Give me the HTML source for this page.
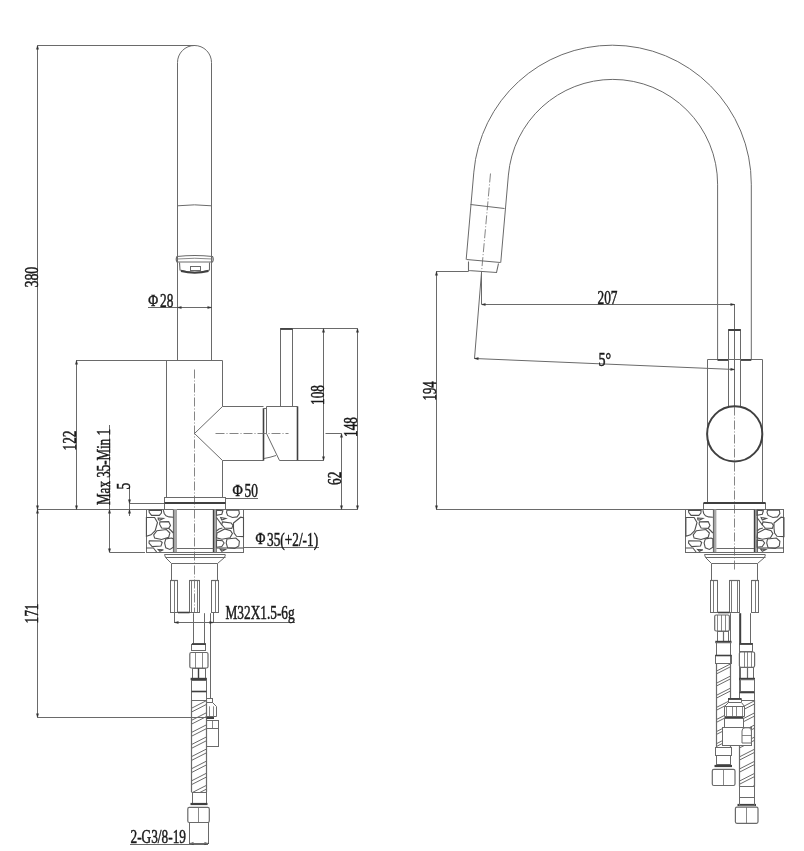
<!DOCTYPE html>
<html><head><meta charset="utf-8"><style>
html,body{margin:0;padding:0;background:#fff;}
svg{display:block;will-change:transform;}
svg line, svg path, svg rect, svg circle{fill:none;stroke:#6a6a6a;stroke-width:1;}
svg g[fill] rect, svg g[fill] path{fill:#fff;}
svg text{font-family:"Liberation Serif",serif;fill:#1a1a1a;stroke:#1a1a1a;stroke-width:0.5px;}
.dash{stroke-dasharray:9 2 1 2;stroke-width:0.8;stroke:#666 !important;}
.dashdot{stroke-dasharray:9 2 1 2;stroke-width:0.8;stroke:#666 !important;}
</style></head><body>
<svg width="804" height="851" viewBox="0 0 804 851">
<line x1="37.5" y1="45.5" x2="37.5" y2="717.5"/>
<line x1="37.5" y1="45.5" x2="195" y2="45.5"/>
<line x1="37.5" y1="717.5" x2="206.4" y2="717.5"/>
<line x1="37.5" y1="509.5" x2="357.5" y2="509.5"/>
<text transform="translate(37.5,287.5) rotate(-90) scale(0.75,1)" font-size="18.5">380</text>
<text transform="translate(37.5,623.5) rotate(-90) scale(0.72,1)" font-size="18.5">171</text>
<line x1="76.5" y1="360" x2="76.5" y2="509.5"/>
<line x1="76.2" y1="360.5" x2="167" y2="360.5"/>
<text transform="translate(76.2,450.5) rotate(-90) scale(0.72,1)" font-size="18.5">122</text>
<line x1="109.5" y1="425" x2="109.5" y2="552"/>
<line x1="109.6" y1="552.5" x2="145" y2="552.5"/>
<text transform="translate(109.6,505) rotate(-90) scale(0.705,1)" font-size="18.5">Max 35-Min 1</text>
<line x1="129.5" y1="486" x2="129.5" y2="516"/>
<line x1="129.5" y1="503.5" x2="164.5" y2="503.5"/>
<text transform="translate(129.5,489.5) rotate(-90) scale(0.72,1)" font-size="18.5">5</text>
<line x1="148" y1="307.5" x2="212" y2="307.5"/>
<text transform="translate(148.3,305.8) scale(0.82,1)" font-size="16.5">Φ</text>
<text transform="translate(160,306.5) scale(0.72,1)" font-size="18.5">28</text>
<line x1="225.5" y1="498.5" x2="258" y2="498.5"/>
<text transform="translate(232.6,496.3) scale(0.85,1)" font-size="16.5">Φ</text>
<text transform="translate(244.5,497) scale(0.72,1)" font-size="18.5">50</text>
<line x1="243.5" y1="547.5" x2="319" y2="547.5"/>
<text transform="translate(255.4,544.3) scale(0.82,1)" font-size="16.5">Φ</text>
<text transform="translate(267,545.5) scale(0.72,1)" font-size="18.5">35(+2/-1)</text>
<line x1="174.5" y1="622.5" x2="295" y2="622.5"/>
<line x1="174.5" y1="613" x2="174.5" y2="623"/>
<line x1="213.5" y1="613" x2="213.5" y2="623"/>
<text transform="translate(225.5,618.7) scale(0.72,1)" font-size="18.5">M32X1.5-6g</text>
<line x1="130" y1="844.5" x2="208" y2="844.5"/>
<text transform="translate(130.5,842.5) scale(0.72,1)" font-size="18.5">2-G3/8-19</text>
<line x1="280" y1="328.5" x2="357.5" y2="328.5"/>
<line x1="323.5" y1="328.5" x2="323.5" y2="460.5"/>
<line x1="297.6" y1="460.5" x2="323.5" y2="460.5"/>
<text transform="translate(324,405) rotate(-90) scale(0.72,1)" font-size="18.5">108</text>
<line x1="357.5" y1="328.5" x2="357.5" y2="509.5"/>
<text transform="translate(357,437) rotate(-90) scale(0.72,1)" font-size="18.5">148</text>
<line x1="325.5" y1="433.5" x2="341.2" y2="433.5"/>
<line x1="341.5" y1="433.5" x2="341.5" y2="509.5"/>
<text transform="translate(340.5,485) rotate(-90) scale(0.72,1)" font-size="18.5">62</text>
<path d="M177.5,360 L177.5,62.5 A17,17 0 0 1 211.5,62.5 L211.5,360"/>
<path d="M177.5,205.8 A150,150 0 0 1 211.5,205.8"/>
<path d="M177,256.5 Q194.75,254.5 212.5,256.5 Q214,259.2 212.5,262 L177,262 Q175.5,259.2 177,256.5 Z" style="stroke-width:1.2px;"/>
<path d="M177,259 Q194.75,257.5 212.5,259" style="stroke-width:0.8px;"/>
<path d="M179.5,262.5 L180,270 Q194.75,274.5 209.5,270 L209.5,262.5" style="stroke-width:1.1px;"/>
<path d="M181,271 Q194.75,274.5 208.5,271" style="stroke-width:2px;stroke:#404040;"/>
<rect x="190.5" y="266.5" width="10.0" height="4.0"/>
<path d="M222.5,406.5 L222.5,360.5 L166.5,360.5 L166.5,497.5 L222.5,497.5 L222.5,460.5"/>
<path d="M194.5,369.5 L194.5,612.5" class="dash"/>
<path d="M222.5,406.5 L263.5,406.5 M222.5,460.5 L263.5,460.5"/>
<path d="M222.5,406.5 L194.5,433.5 L222.5,460.5"/>
<line x1="263.5" y1="408.3" x2="263.5" y2="460.6" style="stroke-width:1.6px;stroke:#404040;"/>
<line x1="263.6" y1="408.5" x2="266.6" y2="408.5"/>
<path d="M266.5,406.5 L297.5,406.5 M266.5,406.5 L266.5,433.5 L279.5,460.5 L297.5,460.5"/>
<line x1="297.5" y1="406.4" x2="297.5" y2="460.6" style="stroke-width:1.6px;stroke:#404040;"/>
<path d="M264,458.5 Q270,457.5 276,455.5"/>
<path d="M280.5,406.5 L280.5,328.5 L292.5,328.5 L292.5,406.5"/>
<line x1="280.5" y1="329" x2="292.6" y2="329" style="stroke-width:1.8px;stroke:#404040;"/>
<path d="M215.5,433.5 L288.5,433.5" class="dashdot"/>
<rect x="164.5" y="497.5" width="61.0" height="12.0"/>
<line x1="164.5" y1="503" x2="225.5" y2="503" style="stroke-width:2px;stroke:#404040;"/>
<rect x="146.5" y="509.5" width="27.0" height="43.0"/>
<rect x="216.5" y="509.5" width="27.0" height="43.0"/>
<rect x="173.5" y="509.5" width="3.0" height="43.0" style="stroke:#999;"/>
<rect x="173.4" y="509.5" width="3.4" height="42.5" style="fill:#aaa;stroke:none"/>
<rect x="213.3" y="509.5" width="3" height="42.5" style="fill:#aaa;stroke:none"/>
<line x1="173.5" y1="509.5" x2="173.5" y2="552" style="stroke-width:1.2px;"/>
<line x1="213.5" y1="509.5" x2="213.5" y2="552" style="stroke-width:1.4px;stroke:#404040;"/>
<line x1="176.8" y1="548.5" x2="213.4" y2="548.5"/>
<line x1="176.8" y1="552.5" x2="213.4" y2="552.5"/>
<path d="M149.0,510.4 L161.6,510.1 L161.4,513.0 L159.3,515.4 L151.6,515.4 L149.3,512.5 Z" style="stroke-width:1.1px;stroke:#505050;"/>
<path d="M146.4,517.5 L154.6,517.5 L157.5,522.5 L155.2,530.7 L151.0,534.8 L146.4,536.3 Z" style="stroke-width:1.1px;stroke:#505050;"/>
<path d="M158.1,518.0 L163.4,518.4 L159.9,520.1 L158.4,519.8 Z" style="stroke-width:1.1px;stroke:#505050;"/>
<path d="M159.9,521.9 L168.7,521.6 L170.5,525.4 L168.7,528.4 L161.6,528.0 L159.6,524.2 Z" style="stroke-width:1.1px;stroke:#505050;"/>
<path d="M156.9,530.7 L166.4,529.5 L169.9,533.0 L168.7,537.2 L161.6,539.5 L154.6,538.1 L153.7,534.8 Z" style="stroke-width:1.1px;stroke:#505050;"/>
<path d="M149.3,540.7 L160.5,541.0 L162.2,542.5 L161.0,546.0 L152.2,546.6 L149.0,543.0 Z" style="stroke-width:1.1px;stroke:#505050;"/>
<path d="M165.8,538.9 L171.6,538.0 L173.4,538.9 L173.4,547.2 L169.9,549.5 L165.8,547.8 L164.6,543.0 Z" style="stroke-width:1.1px;stroke:#505050;"/>
<path d="M158.1,549.5 L163.4,549.8 L159.9,551.3 Z" style="stroke-width:1.1px;stroke:#505050;"/>
<path d="M163.4,510.1 L164.2,513.5 L166.0,515.8 L169.0,516.9 L173.4,517.2" style="stroke-width:1.1px;stroke:#505050;"/>
<path d="M146.0,548.0 L153.4,548.0 L156.6,552.0" style="stroke-width:1.1px;stroke:#505050;"/>
<path d="M168.7,528.4 L171.0,530.5 L173.4,533.0" style="stroke-width:1.1px;stroke:#505050;"/>
<path d="M216.5,510.1 L222.9,510.7 L221.8,514.2 L216.5,515.4 Z" style="stroke-width:1.1px;stroke:#505050;"/>
<path d="M227.0,510.1 L238.8,510.1 L239.4,513.6 L237.0,516.9 L232.4,517.5 L227.6,515.4 L226.5,512.5 Z" style="stroke-width:1.1px;stroke:#505050;"/>
<path d="M220.6,517.5 L225.9,518.4 L221.8,520.1 Z" style="stroke-width:1.1px;stroke:#505050;"/>
<path d="M233.5,523.0 L240.6,517.2 L243.5,517.8 L243.5,536.6 L236.5,536.3 L234.1,533.0 L233.5,528.4 Z" style="stroke-width:1.1px;stroke:#505050;"/>
<path d="M222.4,521.9 L231.2,523.0 L232.9,525.4 L231.8,528.4 L224.7,528.0 L221.8,524.8 Z" style="stroke-width:1.1px;stroke:#505050;"/>
<path d="M217.0,533.0 L224.7,528.9 L230.6,530.7 L232.4,533.6 L230.0,537.8 L221.8,539.2 L216.5,537.8 Z" style="stroke-width:1.1px;stroke:#505050;"/>
<path d="M216.5,540.1 L222.4,540.7 L224.1,543.0 L221.8,546.6 L216.5,547.2 Z" style="stroke-width:1.1px;stroke:#505050;"/>
<path d="M227.0,539.0 L235.9,538.0 L239.4,541.3 L238.8,546.0 L234.7,548.4 L227.6,547.8 L226.2,543.0 Z" style="stroke-width:1.1px;stroke:#505050;"/>
<path d="M220.0,549.0 L225.3,549.5 L221.8,551.3 Z" style="stroke-width:1.1px;stroke:#505050;"/>
<path d="M216.5,517.5 L219.0,521.0 L221.8,524.8" style="stroke-width:1.1px;stroke:#505050;"/>
<path d="M216.5,548.0 L243.5,548.0" style="stroke-width:1.1px;stroke:#505050;"/>
<path d="M216.5,531.0 L219.0,529.0 L222.4,528.0" style="stroke-width:1.1px;stroke:#505050;"/>
<line x1="163.8" y1="552.5" x2="225.8" y2="552.5"/>
<line x1="164.5" y1="554.5" x2="225" y2="554.5" style="stroke-width:1.2px;"/>
<path d="M165.5,557.5 L225.5,557.5 M165.5,557.5 L171.5,563.5 L217.5,563.5 L224.5,557.5"/>
<path d="M164.5,554.5 L165.5,557.5 M225.5,554.5 L224.5,557.5"/>
<line x1="171.5" y1="563.6" x2="171.5" y2="580.3"/>
<line x1="217.5" y1="563.6" x2="217.5" y2="580.3"/>
<rect x="170.5" y="580.5" width="7.0" height="32.0"/>
<line x1="170.3" y1="580.5" x2="177.9" y2="580.5" style="stroke-width:1.2px;"/>
<rect x="189.5" y="580.5" width="10.0" height="32.0"/>
<line x1="189.6" y1="580.5" x2="199.5" y2="580.5" style="stroke-width:1.2px;"/>
<rect x="211.5" y="580.5" width="7.0" height="32.0"/>
<line x1="211.5" y1="580.5" x2="218.7" y2="580.5" style="stroke-width:1.2px;"/>
<line x1="174.5" y1="581" x2="174.5" y2="612.8" style="stroke-width:0.9px;"/>
<line x1="191.5" y1="581" x2="191.5" y2="612.8" style="stroke-width:0.9px;"/>
<line x1="197.5" y1="581" x2="197.5" y2="612.8" style="stroke-width:0.9px;"/>
<line x1="215.5" y1="581" x2="215.5" y2="612.8" style="stroke-width:0.9px;"/>
<line x1="177.9" y1="612.5" x2="189.6" y2="612.5" style="stroke-width:1.6px;stroke:#404040;"/>
<line x1="193.5" y1="613.2" x2="193.5" y2="643.75"/>
<line x1="204.5" y1="613.2" x2="204.5" y2="643.75"/>
<line x1="210.5" y1="613.2" x2="210.5" y2="698.5"/>
<rect x="191.5" y="644.5" width="14.0" height="6.0"/>
<line x1="191.9" y1="644" x2="205.9" y2="644" style="stroke-width:1.8px;stroke:#404040;"/>
<path d="M191.3,652.5 L206.5,652.5 Q208,652.5 208,654.0 L208,666.5 Q208,668 206.5,668 L191.3,668 Q189.8,668 189.8,666.5 L189.8,654.0 Q189.8,652.5 191.3,652.5 Z" style="stroke-width:1.2px;"/>
<line x1="195.5" y1="652.5" x2="195.5" y2="668" style="stroke-width:0.8px;"/>
<line x1="202.5" y1="652.5" x2="202.5" y2="668" style="stroke-width:0.8px;"/>
<rect x="192.5" y="668.5" width="13.0" height="10.0"/>
<line x1="198.5" y1="668" x2="198.5" y2="678.5" style="stroke-width:1.4px;stroke:#404040;"/>
<line x1="190.6" y1="679" x2="206.9" y2="679" style="stroke-width:2.4px;stroke:#404040;"/>
<rect x="191.5" y="680.5" width="15.0" height="11.0"/>
<rect x="191.5" y="691.5" width="15.0" height="9.0"/>
<line x1="191.5" y1="691.5" x2="206.5" y2="691.5" style="stroke-width:1.6px;stroke:#404040;"/>
<clipPath id="h123"><rect x="191.5" y="700" width="15.0" height="92"/></clipPath><g clip-path="url(#h123)">
<line x1="191.5" y1="696.15" x2="206.5" y2="688.5" style="stroke-width:1px;"/>
<line x1="191.5" y1="699.9499999999999" x2="206.5" y2="692.3" style="stroke-width:1px;"/>
<line x1="191.5" y1="708.25" x2="206.5" y2="700.6" style="stroke-width:1px;"/>
<line x1="191.5" y1="712.05" x2="206.5" y2="704.4" style="stroke-width:1px;"/>
<line x1="191.5" y1="720.35" x2="206.5" y2="712.7" style="stroke-width:1px;"/>
<line x1="191.5" y1="724.15" x2="206.5" y2="716.5" style="stroke-width:1px;"/>
<line x1="191.5" y1="732.45" x2="206.5" y2="724.8000000000001" style="stroke-width:1px;"/>
<line x1="191.5" y1="736.25" x2="206.5" y2="728.6" style="stroke-width:1px;"/>
<line x1="191.5" y1="744.5500000000001" x2="206.5" y2="736.9000000000001" style="stroke-width:1px;"/>
<line x1="191.5" y1="748.35" x2="206.5" y2="740.7" style="stroke-width:1px;"/>
<line x1="191.5" y1="756.6500000000001" x2="206.5" y2="749.0000000000001" style="stroke-width:1px;"/>
<line x1="191.5" y1="760.45" x2="206.5" y2="752.8000000000001" style="stroke-width:1px;"/>
<line x1="191.5" y1="768.7500000000001" x2="206.5" y2="761.1000000000001" style="stroke-width:1px;"/>
<line x1="191.5" y1="772.5500000000001" x2="206.5" y2="764.9000000000001" style="stroke-width:1px;"/>
<line x1="191.5" y1="780.8500000000001" x2="206.5" y2="773.2000000000002" style="stroke-width:1px;"/>
<line x1="191.5" y1="784.6500000000001" x2="206.5" y2="777.0000000000001" style="stroke-width:1px;"/>
<line x1="191.5" y1="792.9500000000002" x2="206.5" y2="785.3000000000002" style="stroke-width:1px;"/>
<line x1="191.5" y1="796.7500000000001" x2="206.5" y2="789.1000000000001" style="stroke-width:1px;"/>
<line x1="191.5" y1="805.0500000000002" x2="206.5" y2="797.4000000000002" style="stroke-width:1px;"/>
<line x1="191.5" y1="808.8500000000001" x2="206.5" y2="801.2000000000002" style="stroke-width:1px;"/>
</g>
<line x1="191.5" y1="700" x2="191.5" y2="792" style="stroke-width:1.2px;"/>
<line x1="206.5" y1="700" x2="206.5" y2="792" style="stroke-width:1.2px;"/>
<line x1="191.5" y1="792.5" x2="206.5" y2="792.5"/>
<rect x="192.5" y="792.5" width="14.0" height="11.0"/>
<line x1="190.5" y1="804" x2="207.5" y2="804" style="stroke-width:2.2px;stroke:#404040;"/>
<path d="M189.3,807.4 L207.8,807.4 Q209.3,807.4 209.3,808.9 L209.3,821.0 Q209.3,822.5 207.8,822.5 L189.3,822.5 Q187.8,822.5 187.8,821.0 L187.8,808.9 Q187.8,807.4 189.3,807.4 Z" style="stroke-width:1.2px;"/>
<line x1="198.5" y1="807.4" x2="198.5" y2="822.5" style="stroke-width:0.8px;"/>
<rect x="189.5" y="822.5" width="19.0" height="21.0"/>
<rect x="206.5" y="698.5" width="6.0" height="4.0"/>
<path d="M206.5,702.5 L212.5,702.5 L216.5,706.5 L216.5,716.5 L206.5,716.5"/>
<line x1="209.5" y1="706.3" x2="209.5" y2="716.2" style="stroke-width:0.8px;"/>
<line x1="213.5" y1="706.3" x2="213.5" y2="716.2" style="stroke-width:0.8px;"/>
<line x1="206.5" y1="718" x2="214" y2="718" style="stroke-width:2px;stroke:#404040;"/>
<rect x="206.5" y="720.5" width="12.0" height="8.0"/>
<line x1="212.5" y1="720" x2="212.5" y2="728.4" style="stroke-width:0.8px;"/>
<rect x="206.5" y="728.5" width="12.0" height="18.0"/>
<path d="M466.18,259.50 L473.83,172.09 A139.0,139.0 0 0 1 612.3,45.19999999999999 A139.0,139.0 0 0 1 751.3,184.2 L751.3,359.6"/>
<path d="M500.74,262.60 L508.40,175.07 A104.8,104.8 0 0 1 612.8,79.39999999999999 A104.8,104.8 0 0 1 717.5999999999999,184.2 L717.5999999999999,359.6"/>
<path d="M466.5,259.5 L500.5,262.5" style="stroke-width:1.1px;"/>
<path d="M470.5,204.5 L504.5,208.5"/>
<path d="M468.5,261.5 L468.5,270.5 L496.5,272.5 L498.5,263.5" style="stroke-width:1.1px;"/>
<path d="M490.5,173.5 L481.5,272.5" class="dashdot"/>
<line x1="436.2" y1="271.5" x2="468.7" y2="271.5"/>
<line x1="436.5" y1="271.4" x2="436.5" y2="509.5"/>
<text transform="translate(436,400.5) rotate(-90) scale(0.69,1)" font-size="18.5">194</text>
<line x1="481.5" y1="272" x2="481.5" y2="304.2"/>
<line x1="481.8" y1="304.5" x2="734.6" y2="304.5"/>
<text transform="translate(597.5,304) scale(0.72,1)" font-size="18.5">207</text>
<path d="M481.5,272.5 L474.5,358.5 L734.5,369.5"/>
<text transform="translate(598.5,366) scale(0.76,1)" font-size="18.5">5°</text>
<line x1="734.5" y1="304" x2="734.5" y2="406"/>
<path d="M734.5,406.5 L734.5,570.5" class="dash"/>
<path d="M707.5,503.5 L707.5,359.5 L762.5,359.5 L762.5,503.5"/>
<line x1="717.5" y1="360" x2="728.3" y2="360" style="stroke-width:1.8px;stroke:#404040;"/>
<line x1="740.7" y1="360" x2="751.3" y2="360" style="stroke-width:1.8px;stroke:#404040;"/>
<path d="M728.5,406.5 L728.5,329.5 L740.5,329.5 L740.5,406.5"/>
<line x1="728.3" y1="330" x2="740.7" y2="330" style="stroke-width:2px;stroke:#404040;"/>
<circle cx="734.7" cy="433.9" r="27.6" style="stroke-width:2px;stroke:#404040"/>
<rect x="703.5" y="503.5" width="62.0" height="6.0"/>
<line x1="703.5" y1="503" x2="765.6" y2="503" style="stroke-width:2px;stroke:#404040;"/>
<line x1="436.2" y1="509.5" x2="783.5" y2="509.5"/>
<rect x="685.5" y="509.5" width="28.0" height="43.0"/>
<rect x="757.5" y="509.5" width="26.0" height="43.0"/>
<rect x="713.4" y="509.5" width="3" height="42.5" style="fill:#aaa;stroke:none"/>
<rect x="754" y="509.5" width="3" height="42.5" style="fill:#aaa;stroke:none"/>
<line x1="713.5" y1="509.5" x2="713.5" y2="552" style="stroke-width:1.2px;"/>
<line x1="754.5" y1="509.5" x2="754.5" y2="552" style="stroke-width:1.4px;stroke:#404040;"/>
<line x1="716.4" y1="548.5" x2="754" y2="548.5"/>
<line x1="716.4" y1="552.5" x2="754" y2="552.5"/>
<g transform="translate(539.5,0)">
<path d="M149.0,510.4 L161.6,510.1 L161.4,513.0 L159.3,515.4 L151.6,515.4 L149.3,512.5 Z" style="stroke-width:1.1px;stroke:#505050;"/>
<path d="M146.4,517.5 L154.6,517.5 L157.5,522.5 L155.2,530.7 L151.0,534.8 L146.4,536.3 Z" style="stroke-width:1.1px;stroke:#505050;"/>
<path d="M158.1,518.0 L163.4,518.4 L159.9,520.1 L158.4,519.8 Z" style="stroke-width:1.1px;stroke:#505050;"/>
<path d="M159.9,521.9 L168.7,521.6 L170.5,525.4 L168.7,528.4 L161.6,528.0 L159.6,524.2 Z" style="stroke-width:1.1px;stroke:#505050;"/>
<path d="M156.9,530.7 L166.4,529.5 L169.9,533.0 L168.7,537.2 L161.6,539.5 L154.6,538.1 L153.7,534.8 Z" style="stroke-width:1.1px;stroke:#505050;"/>
<path d="M149.3,540.7 L160.5,541.0 L162.2,542.5 L161.0,546.0 L152.2,546.6 L149.0,543.0 Z" style="stroke-width:1.1px;stroke:#505050;"/>
<path d="M165.8,538.9 L171.6,538.0 L173.4,538.9 L173.4,547.2 L169.9,549.5 L165.8,547.8 L164.6,543.0 Z" style="stroke-width:1.1px;stroke:#505050;"/>
<path d="M158.1,549.5 L163.4,549.8 L159.9,551.3 Z" style="stroke-width:1.1px;stroke:#505050;"/>
<path d="M163.4,510.1 L164.2,513.5 L166.0,515.8 L169.0,516.9 L173.4,517.2" style="stroke-width:1.1px;stroke:#505050;"/>
<path d="M146.0,548.0 L153.4,548.0 L156.6,552.0" style="stroke-width:1.1px;stroke:#505050;"/>
<path d="M168.7,528.4 L171.0,530.5 L173.4,533.0" style="stroke-width:1.1px;stroke:#505050;"/>
</g>
<g transform="translate(540.5,0)">
<path d="M216.5,510.1 L222.9,510.7 L221.8,514.2 L216.5,515.4 Z" style="stroke-width:1.1px;stroke:#505050;"/>
<path d="M227.0,510.1 L238.8,510.1 L239.4,513.6 L237.0,516.9 L232.4,517.5 L227.6,515.4 L226.5,512.5 Z" style="stroke-width:1.1px;stroke:#505050;"/>
<path d="M220.6,517.5 L225.9,518.4 L221.8,520.1 Z" style="stroke-width:1.1px;stroke:#505050;"/>
<path d="M233.5,523.0 L240.6,517.2 L243.5,517.8 L243.5,536.6 L236.5,536.3 L234.1,533.0 L233.5,528.4 Z" style="stroke-width:1.1px;stroke:#505050;"/>
<path d="M222.4,521.9 L231.2,523.0 L232.9,525.4 L231.8,528.4 L224.7,528.0 L221.8,524.8 Z" style="stroke-width:1.1px;stroke:#505050;"/>
<path d="M217.0,533.0 L224.7,528.9 L230.6,530.7 L232.4,533.6 L230.0,537.8 L221.8,539.2 L216.5,537.8 Z" style="stroke-width:1.1px;stroke:#505050;"/>
<path d="M216.5,540.1 L222.4,540.7 L224.1,543.0 L221.8,546.6 L216.5,547.2 Z" style="stroke-width:1.1px;stroke:#505050;"/>
<path d="M227.0,539.0 L235.9,538.0 L239.4,541.3 L238.8,546.0 L234.7,548.4 L227.6,547.8 L226.2,543.0 Z" style="stroke-width:1.1px;stroke:#505050;"/>
<path d="M220.0,549.0 L225.3,549.5 L221.8,551.3 Z" style="stroke-width:1.1px;stroke:#505050;"/>
<path d="M216.5,517.5 L219.0,521.0 L221.8,524.8" style="stroke-width:1.1px;stroke:#505050;"/>
<path d="M216.5,548.0 L243.5,548.0" style="stroke-width:1.1px;stroke:#505050;"/>
<path d="M216.5,531.0 L219.0,529.0 L222.4,528.0" style="stroke-width:1.1px;stroke:#505050;"/>
</g>
<line x1="703.8" y1="552.5" x2="765.8" y2="552.5"/>
<line x1="704.5" y1="554.5" x2="765" y2="554.5" style="stroke-width:1.2px;"/>
<path d="M705.5,557.5 L765.5,557.5 M705.5,557.5 L711.5,563.5 L757.5,563.5 L764.5,557.5"/>
<path d="M704.5,554.5 L705.5,557.5 M765.5,554.5 L764.5,557.5"/>
<line x1="711.5" y1="563.6" x2="711.5" y2="580.3"/>
<line x1="757.5" y1="563.6" x2="757.5" y2="580.3"/>
<rect x="710.5" y="580.5" width="7.0" height="32.0"/>
<line x1="710.3" y1="580.5" x2="717.9" y2="580.5" style="stroke-width:1.2px;"/>
<rect x="729.5" y="580.5" width="10.0" height="32.0"/>
<line x1="729.6" y1="580.5" x2="739.5" y2="580.5" style="stroke-width:1.2px;"/>
<rect x="751.5" y="580.5" width="7.0" height="32.0"/>
<line x1="751.5" y1="580.5" x2="758.7" y2="580.5" style="stroke-width:1.2px;"/>
<line x1="713.5" y1="581" x2="713.5" y2="612.8" style="stroke-width:0.9px;"/>
<line x1="731.5" y1="581" x2="731.5" y2="612.8" style="stroke-width:0.9px;"/>
<line x1="737.5" y1="581" x2="737.5" y2="612.8" style="stroke-width:0.9px;"/>
<line x1="755.5" y1="581" x2="755.5" y2="612.8" style="stroke-width:0.9px;"/>
<line x1="717.9" y1="612.5" x2="729.6" y2="612.5" style="stroke-width:1.6px;stroke:#404040;"/>
<line x1="730.5" y1="613.2" x2="730.5" y2="698"/>
<line x1="739.5" y1="613.2" x2="739.5" y2="698"/>
<line x1="740.5" y1="613.2" x2="740.5" y2="643.8" style="stroke-width:1.4px;stroke:#404040;"/>
<line x1="750.5" y1="613.2" x2="750.5" y2="643.8"/>
<path d="M716.2,615 L727.9,615 Q729.4,615 729.4,616.5 L729.4,629.5 Q729.4,631 727.9,631 L716.2,631 Q714.7,631 714.7,629.5 L714.7,616.5 Q714.7,615 716.2,615 Z" style="stroke-width:1.2px;"/>
<line x1="717.5" y1="615" x2="717.5" y2="631" style="stroke-width:0.8px;"/>
<line x1="721.5" y1="615" x2="721.5" y2="631" style="stroke-width:0.8px;"/>
<line x1="725.5" y1="615" x2="725.5" y2="631" style="stroke-width:0.8px;"/>
<rect x="717.5" y="631.5" width="11.0" height="10.0"/>
<line x1="723.5" y1="631" x2="723.5" y2="641" style="stroke-width:1.2px;"/>
<line x1="715.3" y1="642" x2="731.5" y2="642" style="stroke-width:2.4px;stroke:#404040;"/>
<rect x="716.5" y="642.5" width="14.0" height="13.0"/>
<rect x="715.5" y="655.5" width="16.0" height="8.0"/>
<line x1="715.3" y1="655.5" x2="731.5" y2="655.5" style="stroke-width:1.6px;stroke:#404040;"/>
<clipPath id="h252"><rect x="716.2" y="663.8" width="13.799999999999955" height="83.20000000000005"/></clipPath><g clip-path="url(#h252)">
<line x1="716.2" y1="659.138" x2="730" y2="652.1" style="stroke-width:1px;"/>
<line x1="716.2" y1="661.938" x2="730" y2="654.9" style="stroke-width:1px;"/>
<line x1="716.2" y1="671.238" x2="730" y2="664.2" style="stroke-width:1px;"/>
<line x1="716.2" y1="674.038" x2="730" y2="667.0" style="stroke-width:1px;"/>
<line x1="716.2" y1="683.3380000000001" x2="730" y2="676.3000000000001" style="stroke-width:1px;"/>
<line x1="716.2" y1="686.138" x2="730" y2="679.1" style="stroke-width:1px;"/>
<line x1="716.2" y1="695.4380000000001" x2="730" y2="688.4000000000001" style="stroke-width:1px;"/>
<line x1="716.2" y1="698.238" x2="730" y2="691.2" style="stroke-width:1px;"/>
<line x1="716.2" y1="707.5380000000001" x2="730" y2="700.5000000000001" style="stroke-width:1px;"/>
<line x1="716.2" y1="710.3380000000001" x2="730" y2="703.3000000000001" style="stroke-width:1px;"/>
<line x1="716.2" y1="719.6380000000001" x2="730" y2="712.6000000000001" style="stroke-width:1px;"/>
<line x1="716.2" y1="722.4380000000001" x2="730" y2="715.4000000000001" style="stroke-width:1px;"/>
<line x1="716.2" y1="731.7380000000002" x2="730" y2="724.7000000000002" style="stroke-width:1px;"/>
<line x1="716.2" y1="734.5380000000001" x2="730" y2="727.5000000000001" style="stroke-width:1px;"/>
<line x1="716.2" y1="743.8380000000002" x2="730" y2="736.8000000000002" style="stroke-width:1px;"/>
<line x1="716.2" y1="746.6380000000001" x2="730" y2="739.6000000000001" style="stroke-width:1px;"/>
<line x1="716.2" y1="755.9380000000002" x2="730" y2="748.9000000000002" style="stroke-width:1px;"/>
<line x1="716.2" y1="758.7380000000002" x2="730" y2="751.7000000000002" style="stroke-width:1px;"/>
</g>
<line x1="716.5" y1="663.8" x2="716.5" y2="747" style="stroke-width:1.2px;"/>
<line x1="730.5" y1="663.8" x2="730.5" y2="747" style="stroke-width:1.2px;"/>
<line x1="716.2" y1="747.5" x2="730" y2="747.5"/>
<rect x="715.5" y="747.5" width="16.0" height="8.0"/>
<rect x="716.5" y="755.5" width="14.0" height="9.0"/>
<line x1="714.5" y1="766" x2="732" y2="766" style="stroke-width:2.2px;stroke:#404040;"/>
<path d="M713.8,769.4 L733.5,769.4 Q735,769.4 735,770.9 L735,784.0 Q735,785.5 733.5,785.5 L713.8,785.5 Q712.3,785.5 712.3,784.0 L712.3,770.9 Q712.3,769.4 713.8,769.4 Z" style="stroke-width:1.2px;"/>
<line x1="723.5" y1="769.4" x2="723.5" y2="785.5" style="stroke-width:0.8px;"/>
<rect x="739.5" y="643.5" width="13.0" height="8.0"/>
<line x1="739.4" y1="644" x2="752.6" y2="644" style="stroke-width:1.8px;stroke:#404040;"/>
<path d="M740.9,652 L753.1,652 Q754.6,652 754.6,653.5 L754.6,665.8 Q754.6,667.3 753.1,667.3 L740.9,667.3 Q739.4,667.3 739.4,665.8 L739.4,653.5 Q739.4,652 740.9,652 Z" style="stroke-width:1.2px;"/>
<line x1="744.5" y1="652" x2="744.5" y2="667.3" style="stroke-width:0.8px;"/>
<line x1="747.5" y1="652" x2="747.5" y2="667.3" style="stroke-width:0.8px;"/>
<line x1="751.5" y1="652" x2="751.5" y2="667.3" style="stroke-width:0.8px;"/>
<rect x="740.5" y="667.5" width="13.0" height="11.0"/>
<line x1="747.5" y1="667.3" x2="747.5" y2="678" style="stroke-width:1.2px;"/>
<line x1="739" y1="679" x2="755" y2="679" style="stroke-width:2.4px;stroke:#404040;"/>
<rect x="740.5" y="679.5" width="14.0" height="12.0"/>
<rect x="739.5" y="691.5" width="15.0" height="9.0"/>
<line x1="739.5" y1="692.5" x2="754.3" y2="692.5" style="stroke-width:1.6px;stroke:#404040;"/>
<clipPath id="h292"><rect x="739.5" y="700" width="14.799999999999955" height="86.39999999999998"/></clipPath><g clip-path="url(#h292)">
<line x1="739.5" y1="696.348" x2="754.3" y2="688.8" style="stroke-width:1px;"/>
<line x1="739.5" y1="699.548" x2="754.3" y2="692.0" style="stroke-width:1px;"/>
<line x1="739.5" y1="708.448" x2="754.3" y2="700.9" style="stroke-width:1px;"/>
<line x1="739.5" y1="711.648" x2="754.3" y2="704.1" style="stroke-width:1px;"/>
<line x1="739.5" y1="720.548" x2="754.3" y2="713.0" style="stroke-width:1px;"/>
<line x1="739.5" y1="723.748" x2="754.3" y2="716.2" style="stroke-width:1px;"/>
<line x1="739.5" y1="732.648" x2="754.3" y2="725.1" style="stroke-width:1px;"/>
<line x1="739.5" y1="735.8480000000001" x2="754.3" y2="728.3000000000001" style="stroke-width:1px;"/>
<line x1="739.5" y1="744.748" x2="754.3" y2="737.2" style="stroke-width:1px;"/>
<line x1="739.5" y1="747.9480000000001" x2="754.3" y2="740.4000000000001" style="stroke-width:1px;"/>
<line x1="739.5" y1="756.8480000000001" x2="754.3" y2="749.3000000000001" style="stroke-width:1px;"/>
<line x1="739.5" y1="760.0480000000001" x2="754.3" y2="752.5000000000001" style="stroke-width:1px;"/>
<line x1="739.5" y1="768.9480000000001" x2="754.3" y2="761.4000000000001" style="stroke-width:1px;"/>
<line x1="739.5" y1="772.1480000000001" x2="754.3" y2="764.6000000000001" style="stroke-width:1px;"/>
<line x1="739.5" y1="781.0480000000001" x2="754.3" y2="773.5000000000001" style="stroke-width:1px;"/>
<line x1="739.5" y1="784.2480000000002" x2="754.3" y2="776.7000000000002" style="stroke-width:1px;"/>
<line x1="739.5" y1="793.1480000000001" x2="754.3" y2="785.6000000000001" style="stroke-width:1px;"/>
<line x1="739.5" y1="796.3480000000002" x2="754.3" y2="788.8000000000002" style="stroke-width:1px;"/>
</g>
<line x1="739.5" y1="700" x2="739.5" y2="786.4" style="stroke-width:1.2px;"/>
<line x1="754.5" y1="700" x2="754.5" y2="786.4" style="stroke-width:1.2px;"/>
<line x1="739.5" y1="786.5" x2="754.3" y2="786.5"/>
<rect x="739.5" y="786.5" width="15.0" height="11.0"/>
<line x1="737.5" y1="805" x2="756" y2="805" style="stroke-width:2.2px;stroke:#404040;"/>
<rect x="739.5" y="797.5" width="15.0" height="8.0"/>
<path d="M736.9,807.2 L756.5,807.2 Q758,807.2 758,808.7 L758,821.8 Q758,823.3 756.5,823.3 L736.9,823.3 Q735.4,823.3 735.4,821.8 L735.4,808.7 Q735.4,807.2 736.9,807.2 Z" style="stroke-width:1.2px;"/>
<line x1="746.5" y1="807.2" x2="746.5" y2="823.3" style="stroke-width:0.8px;"/>
<g fill="#fff">
<path d="M728.5,698.5 L741.5,698.5 L741.5,702.5 L744.5,706.5 L744.5,716.5 L724.5,716.5 L724.5,706.5 L728.5,702.5 Z"/>
<line x1="728" y1="699" x2="741" y2="699" style="stroke-width:1.8px;stroke:#404040;"/>
<line x1="728" y1="702.5" x2="741" y2="702.5"/>
<line x1="724.5" y1="706.5" x2="744.6" y2="706.5"/>
<line x1="726.5" y1="706.5" x2="726.5" y2="716.4" style="stroke-width:0.8px;"/>
<line x1="732.5" y1="706.5" x2="732.5" y2="716.4" style="stroke-width:0.8px;"/>
<line x1="736.5" y1="706.5" x2="736.5" y2="716.4" style="stroke-width:0.8px;"/>
<line x1="742.5" y1="706.5" x2="742.5" y2="716.4" style="stroke-width:0.8px;"/>
<line x1="724.6" y1="718" x2="743.3" y2="718" style="stroke-width:2.2px;stroke:#404040;"/>
<rect x="724.5" y="718.5" width="19.0" height="9.0"/>
<rect x="722.5" y="727.5" width="29.0" height="18.0"/>
<path d="M742,743 L742,731 Q742,727.8 745,727.8 L749,727.8 Q751.4,728 751.4,731 L751.4,743 Z"/>
<line x1="742" y1="735.5" x2="751.4" y2="735.5" style="stroke-width:0.8px;"/>
</g>
<path d="M37.50,45.50 L38.60,49.30 L36.40,49.30 Z" style="fill:#333;stroke:#333;stroke-width:0.4px"/>
<path d="M37.50,509.50 L36.40,505.70 L38.60,505.70 Z" style="fill:#333;stroke:#333;stroke-width:0.4px"/>
<path d="M37.50,509.50 L38.60,513.30 L36.40,513.30 Z" style="fill:#333;stroke:#333;stroke-width:0.4px"/>
<path d="M37.50,717.50 L36.40,713.70 L38.60,713.70 Z" style="fill:#333;stroke:#333;stroke-width:0.4px"/>
<path d="M76.50,360.50 L77.60,364.30 L75.40,364.30 Z" style="fill:#333;stroke:#333;stroke-width:0.4px"/>
<path d="M76.50,509.50 L75.40,505.70 L77.60,505.70 Z" style="fill:#333;stroke:#333;stroke-width:0.4px"/>
<path d="M109.50,509.50 L110.60,513.30 L108.40,513.30 Z" style="fill:#333;stroke:#333;stroke-width:0.4px"/>
<path d="M109.50,552.50 L108.40,548.70 L110.60,548.70 Z" style="fill:#333;stroke:#333;stroke-width:0.4px"/>
<path d="M129.50,503.50 L128.40,499.70 L130.60,499.70 Z" style="fill:#333;stroke:#333;stroke-width:0.4px"/>
<path d="M129.50,509.50 L130.60,513.30 L128.40,513.30 Z" style="fill:#333;stroke:#333;stroke-width:0.4px"/>
<path d="M177.50,307.50 L181.30,306.40 L181.30,308.60 Z" style="fill:#333;stroke:#333;stroke-width:0.4px"/>
<path d="M211.50,307.50 L207.70,308.60 L207.70,306.40 Z" style="fill:#333;stroke:#333;stroke-width:0.4px"/>
<path d="M174.50,622.50 L178.30,621.40 L178.30,623.60 Z" style="fill:#333;stroke:#333;stroke-width:0.4px"/>
<path d="M213.50,622.50 L209.70,623.60 L209.70,621.40 Z" style="fill:#333;stroke:#333;stroke-width:0.4px"/>
<path d="M323.50,328.50 L324.60,332.30 L322.40,332.30 Z" style="fill:#333;stroke:#333;stroke-width:0.4px"/>
<path d="M323.50,460.50 L322.40,456.70 L324.60,456.70 Z" style="fill:#333;stroke:#333;stroke-width:0.4px"/>
<path d="M357.50,328.50 L358.60,332.30 L356.40,332.30 Z" style="fill:#333;stroke:#333;stroke-width:0.4px"/>
<path d="M357.50,509.50 L356.40,505.70 L358.60,505.70 Z" style="fill:#333;stroke:#333;stroke-width:0.4px"/>
<path d="M341.50,433.50 L342.60,437.30 L340.40,437.30 Z" style="fill:#333;stroke:#333;stroke-width:0.4px"/>
<path d="M341.50,509.50 L340.40,505.70 L342.60,505.70 Z" style="fill:#333;stroke:#333;stroke-width:0.4px"/>
<path d="M436.50,271.50 L437.60,275.30 L435.40,275.30 Z" style="fill:#333;stroke:#333;stroke-width:0.4px"/>
<path d="M436.50,509.50 L435.40,505.70 L437.60,505.70 Z" style="fill:#333;stroke:#333;stroke-width:0.4px"/>
<path d="M481.50,304.50 L485.30,303.40 L485.30,305.60 Z" style="fill:#333;stroke:#333;stroke-width:0.4px"/>
<path d="M734.50,304.50 L730.70,305.60 L730.70,303.40 Z" style="fill:#333;stroke:#333;stroke-width:0.4px"/>
<path d="M474.50,358.50 L478.34,357.57 L478.25,359.76 Z" style="fill:#333;stroke:#333;stroke-width:0.4px"/>
<path d="M734.50,369.50 L730.66,370.43 L730.75,368.24 Z" style="fill:#333;stroke:#333;stroke-width:0.4px"/>
<path d="M189.50,843.50 L193.30,842.40 L193.30,844.60 Z" style="fill:#333;stroke:#333;stroke-width:0.4px"/>
<path d="M208.50,843.50 L204.70,844.60 L204.70,842.40 Z" style="fill:#333;stroke:#333;stroke-width:0.4px"/>
<line x1="189.7" y1="843.5" x2="208" y2="843.5"/>
</svg>
</body></html>
